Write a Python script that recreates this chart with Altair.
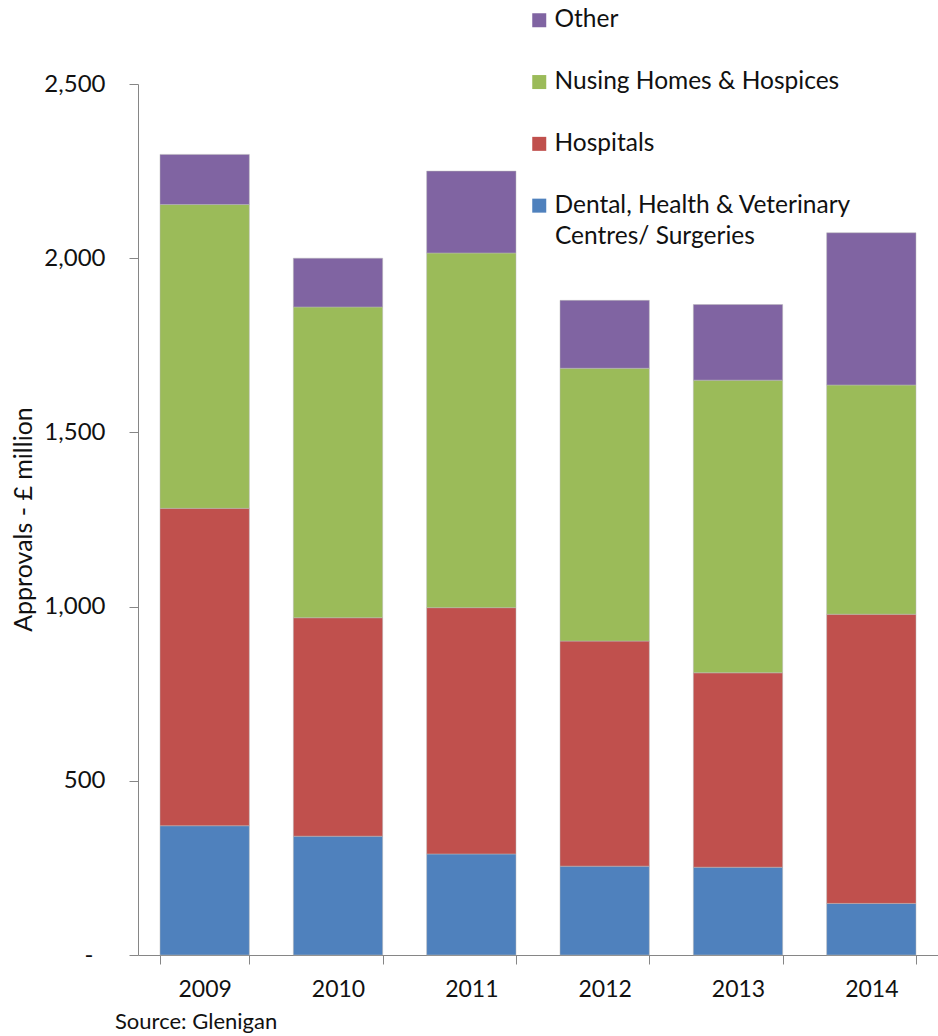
import altair as alt
import pandas as pd

# Healthcare construction approvals by sector, £ million
years = ["2009", "2010", "2011", "2012", "2013", "2014"]
dental = [371, 341, 290, 255, 252, 148]
hospitals = [911, 627, 707, 646, 558, 830]
nursing = [872, 892, 1018, 783, 840, 658]
other = [144, 140, 235, 195, 217, 437]

series_names = [
    "Dental, Health & Veterinary Centres/ Surgeries",
    "Hospitals",
    "Nusing Homes & Hospices",
    "Other",
]
series_values = [dental, hospitals, nursing, other]
series_colors = ["#4F81BD", "#C0504D", "#9BBB59", "#8064A2"]

# the long legend entry is set on two lines
dental_line1 = "Dental, Health & Veterinary"
dental_line2 = "Centres/ Surgeries"

rows = []
for rank, (name, vals) in enumerate(zip(series_names, series_values)):
    for year, v in zip(years, vals):
        rows.append({"year": year, "sector": name, "value": v, "rank": rank})
df = pd.DataFrame(rows)

FONT = "Lato"
AXIS_GREY = "#868686"
TEXT = "#111111"
LEGEND_FS = 24.5

# legend lists the top segment first
legend_domain = series_names[::-1]
legend_range = series_colors[::-1]

bars = alt.Chart(df).mark_bar(stroke="#b8b8b8", strokeWidth=0.5).encode(
    x=alt.X(
        "year:N",
        sort=years,
        scale=alt.Scale(paddingInner=0.33, paddingOuter=0.165),
        axis=alt.Axis(
            title=None,
            labelAngle=0,
            tickBand="extent",
            tickSize=9,
            labelPadding=14,
            labelFontSize=23,
        ),
    ),
    y=alt.Y(
        "value:Q",
        stack="zero",
        scale=alt.Scale(domain=[0, 2500], nice=False),
        axis=alt.Axis(
            title="Approvals - £ million",
            values=[0, 500, 1000, 1500, 2000, 2500],
            labelExpr="datum.value == 0 ? '-' : format(datum.value, ',')",
            tickSize=9,
            # the zero dash sits further out, accounting style
            labelPadding={"condition": {"test": "datum.value == 0", "value": 36}, "value": 24},
            labelFontSize=24,
            titleFontSize=25,
            titleFontWeight="normal",
            titleX=-115,
            titleY=435,
            titleAngle=-90,
            titleAlign="center",
            titleBaseline="middle",
            grid=False,
        ),
    ),
    color=alt.Color(
        "sector:N",
        scale=alt.Scale(domain=legend_domain, range=legend_range),
        legend=alt.Legend(
            title=None,
            orient="none",
            legendX=389,
            legendY=-76,
            symbolType="square",
            symbolSize=196,
            symbolStrokeWidth=0,
            labelFontSize=LEGEND_FS,
            labelOffset=3,
            labelLimit=400,
            rowPadding=36.8,
            padding=0,
            labelExpr=f"datum.label == '{series_names[0]}' ? '{dental_line1}' : datum.label",
        ),
    ),
    order=alt.Order("rank:Q", sort="ascending"),
)

# second line of the long legend entry
legend_wrap = alt.Chart(pd.DataFrame({"line": [dental_line2]})).mark_text(
    align="left",
    baseline="middle",
    font=FONT,
    fontSize=LEGEND_FS,
    color=TEXT,
).encode(text="line:N", x=alt.value(417), y=alt.value(153))

chart = (
    alt.layer(bars, legend_wrap)
    .properties(
        width=800,
        height=871,
        autosize=alt.AutoSizeParams(type="none"),
        padding={"left": 138, "top": 84, "right": 0, "bottom": 81},
        title=alt.TitleParams(
            "Source: Glenigan",
            orient="bottom",
            anchor="start",
            frame="group",
            fontSize=22,
            fontWeight="normal",
            font=FONT,
            color=TEXT,
            dx=-23,
            offset=11,
        ),
    )
    .configure(font=FONT)
    .configure_view(stroke=None)
    .configure_axis(
        domainColor=AXIS_GREY,
        tickColor=AXIS_GREY,
        labelColor=TEXT,
        titleColor=TEXT,
        labelFont=FONT,
        titleFont=FONT,
    )
    .configure_legend(labelFont=FONT, labelColor=TEXT)
)

chart.save("out.html", embed_options={"renderer": "svg", "actions": False})
